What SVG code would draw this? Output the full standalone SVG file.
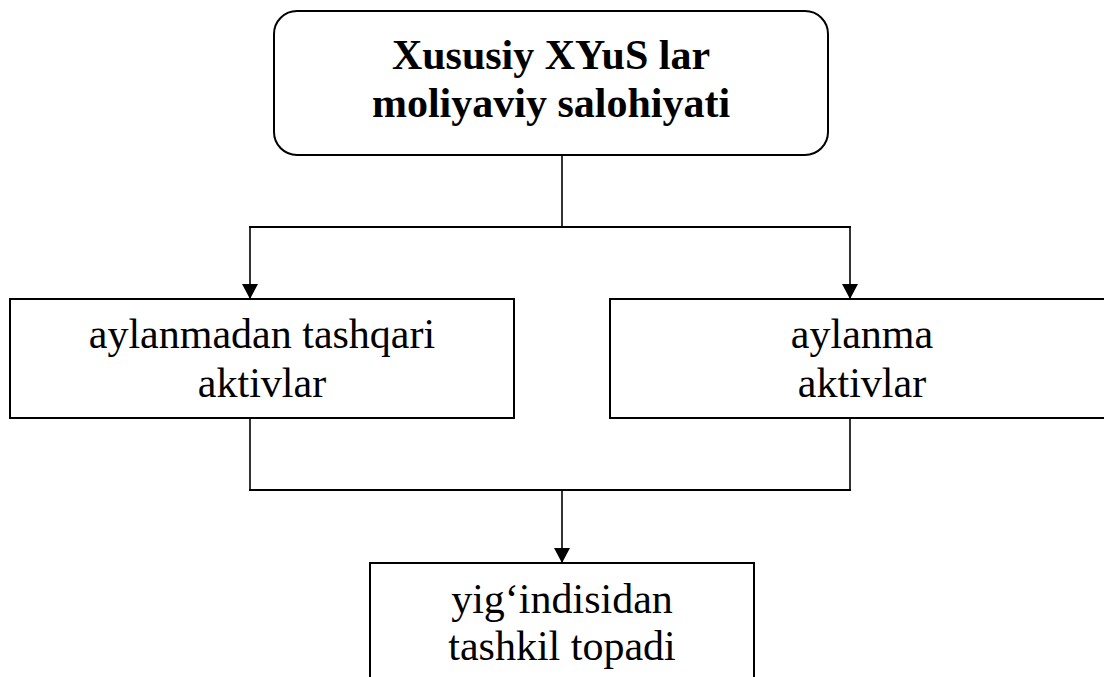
<svg xmlns="http://www.w3.org/2000/svg" width="1104" height="677" viewBox="0 0 1104 677">
  <style>
    .box { fill: #ffffff; stroke: #000000; stroke-width: 2; }
    .lbl { font-family: 'Liberation Serif', Tinos, 'DejaVu Serif', serif; font-size: 42px; fill: #000000; text-anchor: middle; }
    .bold { font-weight: bold; }
    .conn { fill: none; stroke: #000000; stroke-width: 2; }
    .vconn { fill: none; stroke: #000000; stroke-width: 1.6; }
  </style>
  <defs>
    <marker id="arrow" markerUnits="userSpaceOnUse" markerWidth="16" markerHeight="16" viewBox="0 0 16 16" refX="8" refY="16" orient="0">
      <polygon points="0,1 16,1 8,16" fill="#000000"/>
    </marker>
  </defs>
  <rect width="1104" height="677" fill="#ffffff"/>

  <g id="connectors">
    <line class="vconn" x1="562" y1="155" x2="562" y2="227"/>
    <line class="conn" x1="249" y1="227" x2="851" y2="227"/>
    <line class="vconn" x1="250" y1="227" x2="250" y2="299" marker-end="url(#arrow)"/>
    <line class="vconn" x1="850" y1="227" x2="850" y2="299" marker-end="url(#arrow)"/>
    <line class="vconn" x1="250" y1="418" x2="250" y2="490"/>
    <line class="vconn" x1="850" y1="418" x2="850" y2="490"/>
    <line class="conn" x1="249" y1="490" x2="851" y2="490"/>
    <line class="vconn" x1="562" y1="490" x2="562" y2="563" marker-end="url(#arrow)"/>
  </g>

  <g id="node-top">
    <rect class="box" x="274" y="11" width="554" height="144" rx="23" ry="23"/>
    <text class="lbl bold" font-family="Liberation Serif, serif" x="551" y="69">Xususiy XYuS lar</text>
    <text class="lbl bold" font-family="Liberation Serif, serif" x="551" y="117">moliyaviy salohiyati</text>
  </g>

  <g id="node-left">
    <rect class="box" x="10" y="299" width="504" height="119"/>
    <text class="lbl" font-family="Liberation Serif, serif" x="262" y="348">aylanmadan tashqari</text>
    <text class="lbl" font-family="Liberation Serif, serif" x="262" y="397">aktivlar</text>
  </g>

  <g id="node-right">
    <rect class="box" x="610" y="299" width="504" height="119"/>
    <text class="lbl" font-family="Liberation Serif, serif" x="862" y="348">aylanma</text>
    <text class="lbl" font-family="Liberation Serif, serif" x="862" y="397">aktivlar</text>
  </g>

  <g id="node-bottom">
    <rect class="box" x="370" y="563" width="384" height="130"/>
    <text class="lbl" font-family="Liberation Serif, serif" x="562" y="613">yig‘indisidan</text>
    <text class="lbl" font-family="Liberation Serif, serif" x="562" y="660">tashkil topadi</text>
  </g>
</svg>
